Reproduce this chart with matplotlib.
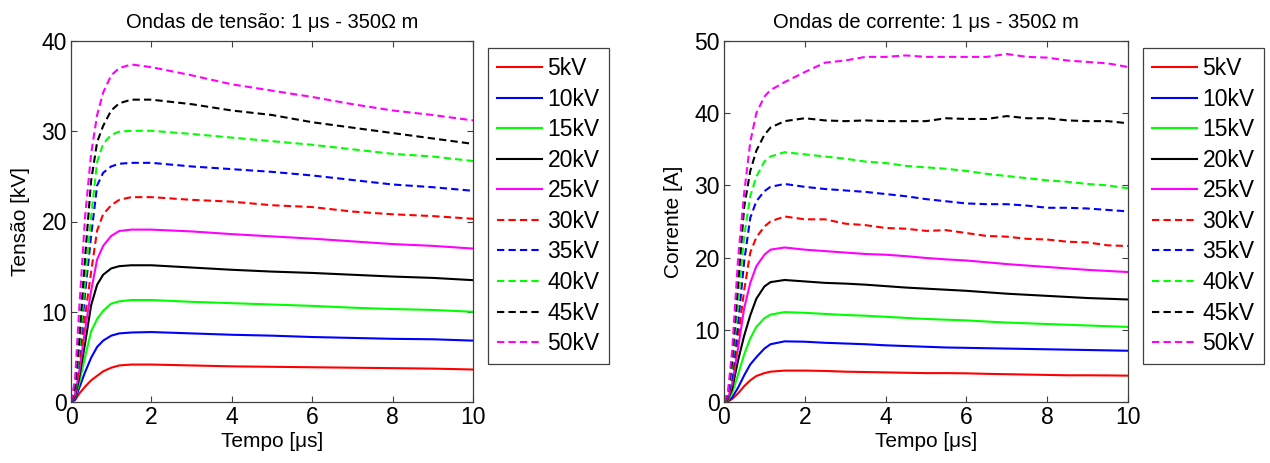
import numpy as np
import matplotlib
matplotlib.use("Agg")
import matplotlib.pyplot as plt

plt.rcParams["font.family"] = ["Liberation Sans", "DejaVu Sans"]

# nazwy serii i style (MATLAB: r, b, g, k, m)
labels = ["5kV", "10kV", "15kV", "20kV", "25kV", "30kV", "35kV", "40kV", "45kV", "50kV"]
colors = ["#ff0000", "#0000ff", "#00ff00", "#000000", "#ff00ff"] * 2
styles = ["-"] * 5 + ["--"] * 5

# czas [us] dla fal napiecia
t_v = [0, 0.1, 0.2, 0.35, 0.5, 0.65, 0.8, 1.0, 1.2, 1.5, 2, 3, 4, 5, 6, 7, 8, 9, 10]

v_5 = [0, 0.2, 0.9, 1.7, 2.4, 2.9, 3.4, 3.8, 4.05, 4.15, 4.15, 4.05, 3.95, 3.9, 3.85, 3.8, 3.75, 3.7, 3.6]
v_10 = [0, 0.3, 1.5, 3.3, 4.9, 6.1, 6.8, 7.35, 7.6, 7.7, 7.75, 7.6, 7.45, 7.35, 7.2, 7.1, 7.0, 6.95, 6.8]
v_15 = [0, 0.5, 2.0, 5.0, 7.8, 9.2, 10.1, 10.9, 11.15, 11.3, 11.3, 11.1, 10.95, 10.8, 10.65, 10.45, 10.3, 10.2, 10.0]
v_20 = [0, 0.6, 2.6, 6.5, 10.7, 13.0, 14.1, 14.8, 15.05, 15.15, 15.15, 14.9, 14.65, 14.45, 14.3, 14.1, 13.9, 13.75, 13.5]
v_25 = [0, 0.8, 3.2, 8.0, 12.3, 15.8, 17.3, 18.4, 18.95, 19.1, 19.1, 18.9, 18.6, 18.35, 18.1, 17.8, 17.5, 17.3, 17.0]
v_30 = [0, 0.9, 4.0, 9.5, 14.4, 19.0, 20.8, 21.8, 22.4, 22.7, 22.7, 22.4, 22.2, 21.8, 21.6, 21.1, 20.8, 20.6, 20.3]
v_35 = [0, 1.2, 5.0, 12.0, 18.4, 24.0, 25.4, 26.1, 26.4, 26.5, 26.5, 26.1, 25.8, 25.5, 25.1, 24.6, 24.1, 23.8, 23.4]
v_40 = [0, 1.4, 5.5, 13.5, 20.5, 26.6, 28.6, 29.6, 29.95, 30.05, 30.05, 29.7, 29.3, 28.9, 28.5, 28.0, 27.5, 27.2, 26.7]
v_45 = [0, 1.6, 6.5, 16.0, 24.5, 28.8, 30.6, 32.3, 33.1, 33.5, 33.5, 33.0, 32.3, 31.8, 31.0, 30.4, 29.8, 29.2, 28.6]
v_50 = [0, 2.5, 10.0, 20.5, 27.5, 31.8, 34.3, 36.2, 37.0, 37.4, 37.1, 36.2, 35.2, 34.5, 33.8, 33.0, 32.3, 31.8, 31.2]

# czas [us] dla fal pradu
t_i = [0, 0.1, 0.2, 0.35, 0.5, 0.65, 0.8, 1.0, 1.15, 1.5, 2, 2.5, 3, 3.5, 4, 4.5,
       5, 5.5, 6, 6.5, 7, 7.5, 8, 8.5, 9, 9.5, 10]

i_5 = [0, 0.1, 0.4, 1.2, 2.2, 3.0, 3.6, 4.0, 4.2, 4.35, 4.35, 4.3, 4.2, 4.15, 4.1, 4.05,
       4.0, 4.0, 3.97, 3.9, 3.85, 3.8, 3.75, 3.7, 3.7, 3.68, 3.65]
i_10 = [0, 0.15, 0.6, 2.0, 3.7, 5.2, 6.2, 7.4, 8.0, 8.4, 8.35, 8.2, 8.1, 8.0, 7.85, 7.75,
        7.65, 7.55, 7.5, 7.45, 7.4, 7.35, 7.3, 7.25, 7.2, 7.15, 7.1]
i_15 = [0, 0.3, 1.2, 3.8, 6.6, 8.8, 10.4, 11.6, 12.1, 12.45, 12.35, 12.2, 12.05, 11.95, 11.8, 11.65,
        11.5, 11.4, 11.3, 11.15, 11.0, 10.9, 10.8, 10.7, 10.6, 10.5, 10.4]
i_20 = [0, 0.4, 1.8, 5.8, 9.2, 12.0, 14.3, 16.0, 16.6, 16.9, 16.7, 16.5, 16.4, 16.25, 16.05, 15.85,
        15.7, 15.55, 15.4, 15.2, 15.0, 14.85, 14.7, 14.55, 14.4, 14.3, 14.2]
i_25 = [0, 0.5, 2.5, 7.5, 13.0, 16.5, 18.8, 20.4, 21.1, 21.4, 21.1, 20.9, 20.7, 20.5, 20.4, 20.2,
        19.95, 19.75, 19.6, 19.35, 19.1, 18.9, 18.7, 18.5, 18.3, 18.15, 18.0]
i_30 = [0, 0.6, 3.0, 9.0, 15.5, 20.7, 22.8, 24.3, 25.0, 25.7, 25.3, 25.3, 24.7, 24.5, 24.1, 24.0,
        23.7, 23.8, 23.4, 23.0, 22.9, 22.6, 22.5, 22.2, 22.1, 21.7, 21.6]
i_35 = [0, 0.8, 3.5, 11.0, 19.5, 25.5, 27.8, 29.2, 29.8, 30.2, 29.8, 29.5, 29.3, 29.1, 28.8, 28.5,
        28.1, 27.8, 27.5, 27.4, 27.4, 27.2, 26.9, 26.9, 26.8, 26.6, 26.4]
i_40 = [0, 1.0, 4.5, 14.0, 23.0, 28.5, 31.2, 33.3, 34.0, 34.6, 34.3, 34.0, 33.7, 33.3, 33.1, 32.7,
        32.5, 32.3, 32.0, 31.6, 31.3, 31.0, 30.7, 30.5, 30.2, 30.0, 29.6]
i_45 = [0, 1.2, 5.5, 16.5, 27.0, 32.0, 34.8, 37.0, 38.0, 38.9, 39.3, 39.0, 38.9, 39.0, 38.9, 38.9,
        38.9, 39.3, 39.2, 39.2, 39.6, 39.3, 39.3, 39.0, 38.9, 38.9, 38.6]
i_50 = [0, 1.5, 7.0, 20.0, 29.0, 36.0, 40.0, 42.3, 43.2, 44.3, 45.7, 47.0, 47.3, 47.8, 47.8, 48.0,
        47.8, 47.8, 47.8, 47.8, 48.2, 47.8, 47.7, 47.3, 47.1, 46.9, 46.4]

voltage = [v_5, v_10, v_15, v_20, v_25, v_30, v_35, v_40, v_45, v_50]
current = [i_5, i_10, i_15, i_20, i_25, i_30, i_35, i_40, i_45, i_50]


def style_axes(ax, ymax):
    ax.set_xlim(0, 10)
    ax.set_ylim(0, ymax)
    ax.set_xticks(np.arange(0, 11, 2))
    ax.set_yticks(np.arange(0, ymax + 1, 10))
    ax.tick_params(direction="in", top=True, right=True, length=4, width=0.8,
                   color="#404040", labelsize=16.5, pad=3)
    for sp in ax.spines.values():
        sp.set_color("#404040")
        sp.set_linewidth(0.9)


def draw_panel(ax, t, series, title, ylabel, ymax):
    for vals, c, ls, lab in zip(series, colors, styles, labels):
        if ls == "--":
            ax.plot(t, vals, color=c, lw=1.5, linestyle=(0, (3.5, 2)), label=lab)
        else:
            ax.plot(t, vals, color=c, lw=1.5, label=lab)
    style_axes(ax, ymax)
    ax.set_title(title, fontsize=14.5, pad=9)
    ax.set_xlabel("Tempo [μs]", fontsize=15, labelpad=2)
    ax.set_ylabel(ylabel, fontsize=15, labelpad=8)
    leg = ax.legend(loc="upper left", bbox_to_anchor=(1.037, 0.981), borderaxespad=0,
                    fontsize=16.5, frameon=True, fancybox=False, framealpha=1,
                    edgecolor="#404040", handlelength=1.95, handletextpad=0.25,
                    labelspacing=0.33, borderpad=0.4)
    leg.get_frame().set_linewidth(0.9)


fig = plt.figure(figsize=(12.7, 4.63), dpi=100)
ax1 = fig.add_axes([71 / 1270, 61 / 463, 402 / 1270, 361 / 463])
ax2 = fig.add_axes([724 / 1270, 61 / 463, 404 / 1270, 361 / 463])

draw_panel(ax1, t_v, voltage, "Ondas de tensão: 1 μs - 350Ω m", "Tensão [kV]", 40)
draw_panel(ax2, t_i, current, "Ondas de corrente: 1 μs - 350Ω m", "Corrente [A]", 50)

fig.savefig("out.png", dpi=100)
